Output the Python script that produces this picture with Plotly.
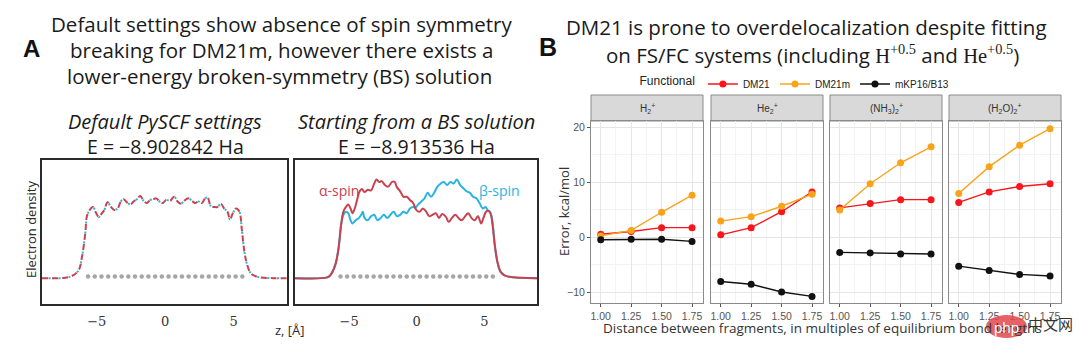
import plotly.graph_objects as go

# ---------------- Panel A data ----------------
z_default = [-9, -6.93, -6.33, -6.08, -5.84, -5.72, -5.52, -5.28, -5.04, -4.84,
             -4.62, -4.45, -4.21, -3.96, -3.72, -3.48, -3.24, -3.04, -2.80, -2.55,
             -2.31, -2.07, -1.82, -1.58, -1.34, -1.09, -0.85, -0.66, -0.41, -0.17,
             0.07, 0.36, 0.66, 0.90, 1.15, 1.39, 1.70, 1.95, 2.19, 2.43,
             2.68, 2.92, 3.09, 3.34, 3.58, 3.82, 4.07, 4.31, 4.55, 4.74,
             4.94, 5.18, 5.42, 5.60, 5.77, 5.96, 6.26, 6.69, 7.91, 9]
rho_default = [0, 0.02, 0.10, 0.27, 0.57, 0.79, 0.87, 0.91, 0.83, 0.78,
               0.83, 0.87, 0.97, 0.91, 0.87, 0.89, 0.98, 1.01, 0.97, 0.94,
               0.98, 1.01, 1.05, 0.99, 0.96, 1.00, 1.01, 1.02, 0.98, 0.96,
               1.00, 0.99, 1.04, 0.98, 0.95, 0.99, 1.02, 0.99, 0.96, 0.98,
               0.96, 1.02, 1.03, 0.92, 0.91, 0.91, 0.95, 0.89, 0.85, 0.75,
               0.83, 0.89, 0.85, 0.62, 0.36, 0.19, 0.06, 0.02, 0, 0]

z_alpha = [-9, -6.62, -6.38, -6.02, -5.78, -5.59, -5.42, -5.23, -5.06, -4.89,
           -4.75, -4.58, -4.41, -4.22, -4.05, -3.86, -3.62, -3.38, -3.14, -2.97,
           -2.78, -2.59, -2.35, -2.11, -1.82, -1.63, -1.46, -1.22, -0.98, -0.74,
           -0.50, -0.26, -0.02, 0.22, 0.46, 0.70, 0.94, 1.17, 1.42, 1.65,
           1.89, 2.14, 2.37, 2.61, 2.86, 3.09, 3.33, 3.58, 3.81, 4.05,
           4.29, 4.53, 4.77, 4.94, 5.13, 5.32, 5.49, 5.61, 5.78, 5.97,
           6.21, 6.57, 9]
rho_alpha = [0.0, 0.01, 0.04, 0.17, 0.38, 0.68, 0.85, 0.91, 0.94, 0.89,
             0.83, 0.89, 1.00, 1.11, 1.14, 1.10, 1.13, 1.12, 1.21, 1.26,
             1.23, 1.24, 1.19, 1.17, 1.23, 1.23, 1.16, 1.11, 1.04, 1.04,
             1.00, 0.96, 0.87, 0.85, 0.89, 0.85, 0.79, 0.81, 0.83, 0.77,
             0.82, 0.79, 0.72, 0.77, 0.81, 0.77, 0.74, 0.79, 0.83, 0.77,
             0.74, 0.79, 0.70, 0.77, 0.85, 0.86, 0.81, 0.68, 0.42, 0.21,
             0.08, 0.03, 0.0]

z_beta = [-9, -6.62, -6.38, -6.02, -5.78, -5.59, -5.42, -5.23, -5.06, -4.89,
          -4.75, -4.51, -4.27, -4.10, -3.98, -3.86, -3.62, -3.38, -3.14, -2.90,
          -2.66, -2.42, -2.18, -1.94, -1.70, -1.46, -1.22, -0.98, -0.74, -0.50,
          -0.26, -0.10, 0.10, 0.34, 0.58, 0.81, 1.06, 1.29, 1.53, 1.78,
          2.01, 2.25, 2.50, 2.73, 2.97, 3.22, 3.45, 3.69, 3.94, 4.17,
          4.41, 4.65, 4.89, 5.09, 5.25, 5.42, 5.54, 5.66, 5.78, 5.97,
          6.21, 6.57, 9]
rho_beta = [0.0, 0.01, 0.04, 0.17, 0.38, 0.68, 0.81, 0.85, 0.83, 0.74,
            0.70, 0.74, 0.77, 0.81, 0.85, 0.77, 0.74, 0.79, 0.81, 0.74,
            0.77, 0.81, 0.77, 0.81, 0.85, 0.79, 0.81, 0.85, 0.83, 0.89,
            0.91, 0.90, 0.94, 0.98, 1.02, 1.09, 1.04, 1.09, 1.17, 1.21,
            1.23, 1.19, 1.23, 1.21, 1.26, 1.19, 1.15, 1.11, 1.09, 1.04,
            1.02, 0.96, 0.89, 0.91, 0.87, 0.85, 0.79, 0.64, 0.42, 0.21,
            0.08, 0.03, 0.0]

atom_z = [-5.635, -5.145, -4.655, -4.165, -3.675, -3.185, -2.695, -2.205,
          -1.715, -1.225, -0.735, -0.245, 0.245, 0.735, 1.225, 1.715,
          2.205, 2.695, 3.185, 3.675, 4.165, 4.655, 5.145, 5.635]
atom_y = [0.02] * len(atom_z)

# ---------------- Panel B data ----------------
distance = [1.00, 1.25, 1.50, 1.75]
distance_labels = ["1.00", "1.25", "1.50", "1.75"]
systems = ["H<sub>2</sub><sup>+</sup>", "He<sub>2</sub><sup>+</sup>",
           "(NH<sub>3</sub>)<sub>2</sub><sup>+</sup>", "(H<sub>2</sub>O)<sub>2</sub><sup>+</sup>"]
functionals = ["DM21", "DM21m", "mKP16/B13"]
err_DM21 = [[0.5, 1.0, 1.7, 1.7],
            [0.4, 1.7, 4.6, 8.2],
            [5.3, 6.1, 6.8, 6.8],
            [6.3, 8.2, 9.2, 9.7]]
err_DM21m = [[0.2, 1.2, 4.5, 7.6],
             [2.9, 3.7, 5.6, 7.8],
             [4.9, 9.7, 13.5, 16.4],
             [7.9, 12.8, 16.7, 19.7]]
err_mKP16 = [[-0.5, -0.4, -0.4, -0.8],
             [-8.1, -8.6, -10.0, -10.8],
             [-2.8, -2.9, -3.1, -3.1],
             [-5.3, -6.1, -6.8, -7.1]]
y_ticks = [-10, 0, 10, 20]

colors = {"DM21": "#f8151b", "DM21m": "#f9a31b", "mKP16/B13": "#111111"}
series = {"DM21": err_DM21, "DM21m": err_DM21m, "mKP16/B13": err_mKP16}

W, H = 1080, 356


def px(x):
    return x / W


def py(y):
    return 1 - y / H


fig = go.Figure()

RED = "#c9424f"
CYAN = "#27b5df"

# Left panel A: default settings (alpha and beta identical)
fig.add_trace(go.Scatter(x=z_default, y=rho_default, mode="lines", line_shape="spline",
                         line=dict(color=RED, width=2, dash="6px,4px"),
                         xaxis="x", yaxis="y", showlegend=False, hoverinfo="skip"))
fig.add_trace(go.Scatter(x=z_default, y=rho_default, mode="lines", line_shape="spline",
                         line=dict(color=CYAN, width=2, dash="0px,6.5px,2px,1.5px"),
                         xaxis="x", yaxis="y", showlegend=False, hoverinfo="skip"))
fig.add_trace(go.Scatter(x=atom_z, y=atom_y, mode="markers",
                         marker=dict(color="#a6a6a6", size=4.5),
                         xaxis="x", yaxis="y", showlegend=False, hoverinfo="skip"))
# Right panel A: BS solution
fig.add_trace(go.Scatter(x=z_beta, y=rho_beta, mode="lines", line_shape="spline",
                         line=dict(color=CYAN, width=2),
                         xaxis="x2", yaxis="y2", showlegend=False, hoverinfo="skip"))
fig.add_trace(go.Scatter(x=z_alpha, y=rho_alpha, mode="lines", line_shape="spline",
                         line=dict(color=RED, width=2),
                         xaxis="x2", yaxis="y2", showlegend=False, hoverinfo="skip"))
fig.add_trace(go.Scatter(x=atom_z, y=atom_y, mode="markers",
                         marker=dict(color="#a6a6a6", size=4.5),
                         xaxis="x2", yaxis="y2", showlegend=False, hoverinfo="skip"))

# Panel B facets
for i in range(4):
    xa = "x%d" % (i + 3)
    ya = "y%d" % (i + 3)
    for f in functionals:
        fig.add_trace(go.Scatter(x=distance, y=series[f][i], mode="lines+markers",
                                 name=f, legendgroup=f, showlegend=(i == 0),
                                 line=dict(color=colors[f], width=1.4),
                                 marker=dict(color=colors[f], size=7),
                                 xaxis=xa, yaxis=ya))

layout = dict(
    width=W, height=H, margin=dict(l=0, r=0, t=0, b=0),
    paper_bgcolor="white", plot_bgcolor="white",
    font=dict(family="Open Sans", color="#222222"),
)

a_y = [py(304), py(160)]
a_x_axes = {"xaxis": [px(42), px(287)], "xaxis2": [px(295), px(537)]}
for k, (name, dom) in enumerate(a_x_axes.items()):
    layout[name] = dict(domain=dom, range=[-9, 8.9], showgrid=False, zeroline=False,
                        showline=True, mirror=True, linecolor="#2b2b2b", linewidth=2,
                        tickvals=[-5, 0, 5], ticktext=["\u22125", "0", "5"], ticks="",
                        ticklabelstandoff=4,
                        tickfont=dict(family="DejaVu Serif", size=13, color="#333333"),
                        anchor="y" if k == 0 else "y2")
    yname = "yaxis" if k == 0 else "yaxis2"
    layout[yname] = dict(domain=a_y, range=[-0.33, 1.51], showgrid=False, zeroline=False,
                         showline=True, mirror=True, linecolor="#2b2b2b", linewidth=2,
                         showticklabels=False, ticks="",
                         anchor="x" if k == 0 else "x2")

b_x = [[591, 703], [711, 823], [830, 942], [949, 1061]]
b_y = [py(303), py(121)]
for i in range(4):
    xn = "xaxis%d" % (i + 3)
    yn = "yaxis%d" % (i + 3)
    layout[xn] = dict(domain=[px(b_x[i][0]), px(b_x[i][1])], range=[0.92, 1.84],
                      anchor="y%d" % (i + 3), tickvals=distance, ticktext=distance_labels,
                      ticks="outside", ticklen=3, tickcolor="#555555",
                      tickfont=dict(family="Liberation Sans", size=10.5, color="#555555"),
                      showgrid=True, gridcolor="#e6e6e6", gridwidth=1, zeroline=False,
                      minor=dict(tickvals=[1.125, 1.375, 1.625], showgrid=True,
                                 gridcolor="#f3f3f3", gridwidth=0.8),
                      showline=True, mirror=True, linecolor="#8a8a8a", linewidth=1)
    layout[yn] = dict(domain=b_y, range=[-12, 21.1], anchor="x%d" % (i + 3),
                      tickvals=y_ticks, ticks="outside" if i == 0 else "", ticklen=3,
                      tickcolor="#555555", showticklabels=(i == 0),
                      tickfont=dict(family="Liberation Sans", size=10.5, color="#555555"),
                      showgrid=True, gridcolor="#e6e6e6", gridwidth=1, zeroline=False,
                      minor=dict(tickvals=[-5, 5, 15], showgrid=True,
                                 gridcolor="#f3f3f3", gridwidth=0.8),
                      showline=True, mirror=True, linecolor="#8a8a8a", linewidth=1)

layout["legend"] = dict(orientation="h", x=px(796), y=py(84), xanchor="center", yanchor="middle",
                        title=dict(text="Functional", font=dict(family="Liberation Sans", size=12, color="#222")),
                        font=dict(family="Liberation Sans", size=10, color="#222"),
                        itemwidth=30, bgcolor="rgba(0,0,0,0)", tracegroupgap=0)

shapes = []
for i in range(4):
    shapes.append(dict(type="rect", xref="paper", yref="paper",
                       x0=px(b_x[i][0]), x1=px(b_x[i][1]), y0=py(121), y1=py(95),
                       fillcolor="#d9d9d9", line=dict(color="#8a8a8a", width=1), layer="below"))
# watermark blob
shapes.append(dict(type="circle", xref="paper", yref="paper",
                   x0=px(986), x1=px(1027), y0=py(338), y1=py(315),
                   fillcolor="rgba(226,70,76,0.85)", line=dict(width=0)))
layout["shapes"] = shapes

ann = []


def add(text, x, y, size, family="Open Sans", color="#1a1a1a", **kw):
    d = dict(text=text, x=px(x), y=py(y), xref="paper", yref="paper", showarrow=False,
             xanchor=kw.pop("xanchor", "center"), yanchor=kw.pop("yanchor", "middle"),
             font=dict(family=family, size=size, color=color))
    d.update(kw)
    ann.append(d)


add("Default settings show absence of spin symmetry", 281, 24, 20.5)
add("breaking for DM21m, however there exists a", 281, 50, 20.5)
add("lower-energy broken-symmetry (BS) solution", 279, 76, 20.5)
add("<b>A</b>", 31, 48, 24, family="Liberation Sans", color="#111")
add("<b>B</b>", 548, 47, 25, family="Liberation Sans", color="#111")
add("DM21 is prone to overdelocalization despite fitting", 806, 27, 20.5)
add("on FS/FC systems (including <span style='font-family:Liberation Serif'>H<sup>+0.5</sup></span>"
    " and <span style='font-family:Liberation Serif'>He<sup>+0.5</sup></span>)", 812, 55, 20.5)
add("<i>Default PySCF settings</i>", 165, 121, 20)
add("E = \u22128.902842 Ha", 165, 146, 19.5)
add("<i>Starting from a BS solution</i>", 416, 121, 20)
add("E = \u22128.913536 Ha", 416, 146, 19.5)
add("Electron density", 31, 230, 13, color="#2a2a2a", textangle=-90)
add("z, [\u00c5]", 290, 330, 13, color="#2a2a2a")
add("\u03b1-spin", 339, 190, 14, color=RED)
add("\u03b2-spin", 499, 190, 14, color=CYAN)
add("Error, kcal/mol", 564, 212, 13, color="#333", textangle=-90)
add("Distance between fragments, in multiples of equilibrium bond lengths", 822, 328, 13.5, color="#333")
for i in range(4):
    add(systems[i], (b_x[i][0] + b_x[i][1]) / 2, 108, 10, family="Liberation Sans", color="#333")
add("php", 1006, 327, 15, family="Liberation Sans", color="white")
add("\u4e2d\u6587\u7f51", 1050, 323, 15, family="Noto Sans CJK SC", color="#333")
layout["annotations"] = ann

fig.update_layout(**layout)
fig.write_html("out.html", config={"displayModeBar": False},
               post_script="document.body.style.margin='0px';document.body.style.overflow='hidden';")
